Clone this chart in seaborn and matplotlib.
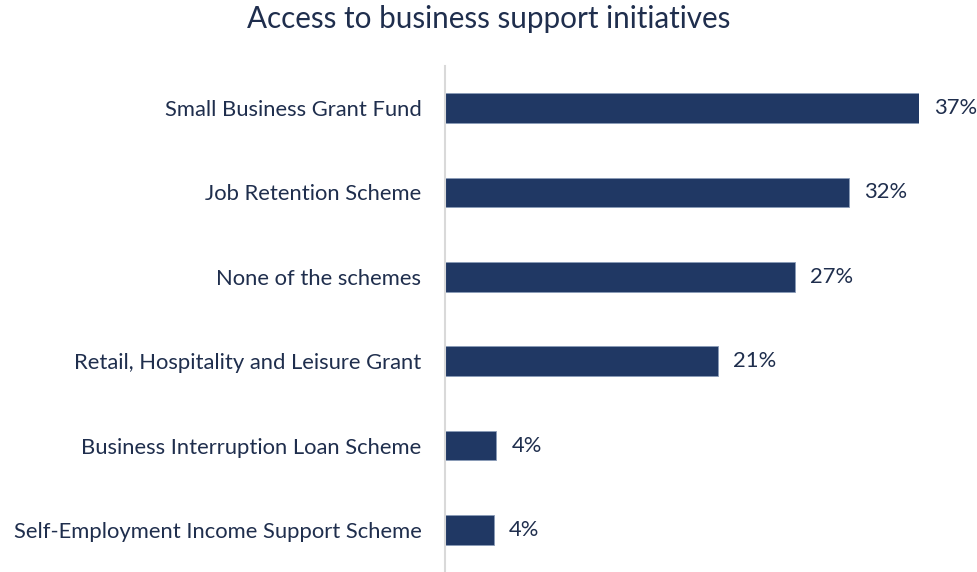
import matplotlib
matplotlib.use("Agg")
import matplotlib.pyplot as plt
import seaborn as sns
import pandas as pd

# Datos
# ==============================================================================
schemes = [
    "Small Business Grant Fund",
    "Job Retention Scheme",
    "None of the schemes",
    "Retail, Hospitality and Leisure Grant",
    "Business Interruption Loan Scheme",
    "Self-Employment Income Support Scheme",
]
share = [37.0, 31.5, 27.3, 21.3, 4.0, 3.8]
share_labels = ["37%", "32%", "27%", "21%", "4%", "4%"]

df = pd.DataFrame({"scheme": schemes, "share": share})

# Gráfico
# ==============================================================================
sns.set_theme(style="white")
plt.rcParams["font.family"] = ["Lato", "DejaVu Sans"]

navy = "#203864"
text_col = "#1F2E4D"

fig = plt.figure(figsize=(9.77, 5.72), dpi=100)
ax = fig.add_axes([445 / 977, 0.0, (919 - 445) / 977, (573 - 67) / 572])

sns.barplot(data=df, x="share", y="scheme", color=navy, width=0.355,
            saturation=1, ax=ax, edgecolor="#8a9bb8", linewidth=0.6)

ax.set_xlim(0, 37.0)
ax.set_ylim(5.5, -0.5)
ax.set_xlabel("")
ax.set_ylabel("")
ax.set_xticks([])

for i, lab in enumerate(share_labels):
    ax.text(share[i] + 1.2, i, lab, va="center", ha="left",
            fontsize=15.8, color=text_col, clip_on=False)

for s in ["top", "right", "bottom"]:
    ax.spines[s].set_visible(False)
ax.spines["left"].set_color("#D9D9D9")
ax.spines["left"].set_linewidth(1.5)

ax.tick_params(axis="y", length=0, pad=17, labelsize=15.8, labelcolor=text_col)

fig.text(0.5, 1 - 19 / 572, "Access to business support initiatives",
         ha="center", va="center", fontsize=21.3, color=text_col)

fig.savefig("out.png", dpi=100)
